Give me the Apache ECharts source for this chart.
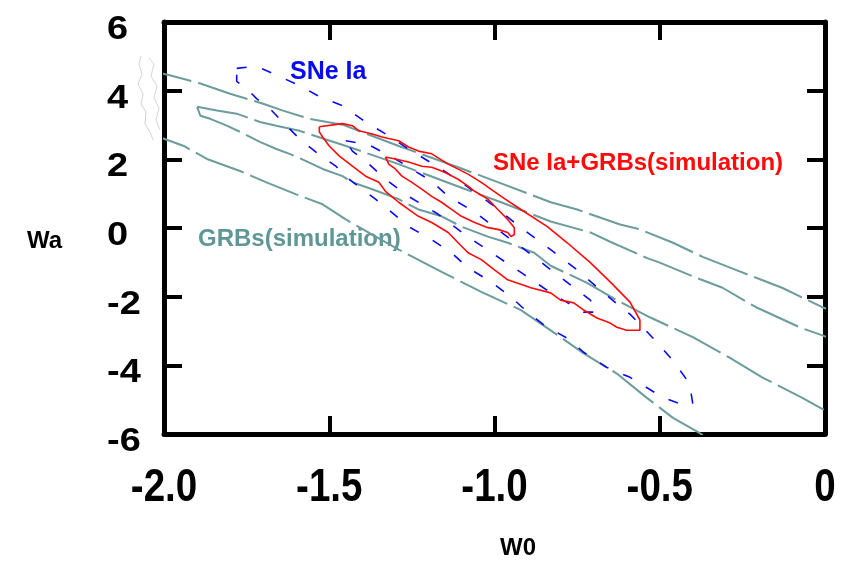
<!DOCTYPE html>
<html>
<head>
<meta charset="utf-8">
<script src="https://cdn.jsdelivr.net/npm/echarts@6/dist/echarts.min.js"></script>
<style>
  html, body { margin: 0; padding: 0; background: #ffffff; }
  #chart { width: 854px; height: 564px; }
</style>
</head>
<body>
<div id="chart"></div>
<script>
// Confidence contours in the (w0, wa) plane.
var xTickValues = [-2, -1.5, -1, -0.5, 0];
var xTickLabels = ['-2.0', '-1.5', '-1.0', '-0.5', '0'];
var yTickValues = [-6, -4, -2, 0, 2, 4, 6];
var yTickLabels = ['-6', '-4', '-2', '0', '2', '4', '6'];

// GRBs (simulation): outer contour, upper and lower branches (run off the plot)
var grbOuterUpper = [
  [-2.07, 4.65], [-1.98, 4.44], [-1.89, 4.21], [-1.80, 3.91], [-1.70, 3.62],
  [-1.64, 3.42], [-1.56, 3.18], [-1.46, 3.01], [-1.29, 2.39], [-1.11, 1.77],
  [-0.98, 1.30], [-0.83, 0.75], [-0.75, 0.54], [-0.62, 0.10], [-0.56, -0.04],
  [-0.46, -0.43], [-0.37, -0.84], [-0.27, -1.22], [-0.13, -1.74], [-0.01, -2.30],
  [0.11, -2.74]
];
var grbOuterLower = [
  [-2.07, 2.80], [-2.00, 2.60], [-1.94, 2.39], [-1.87, 2.01], [-1.77, 1.66],
  [-1.69, 1.33], [-1.60, 0.98], [-1.52, 0.69], [-1.45, 0.25], [-1.29, -0.63],
  [-1.16, -1.28], [-1.04, -1.86], [-0.92, -2.39], [-0.83, -2.98], [-0.73, -3.65],
  [-0.63, -4.24], [-0.54, -4.94], [-0.46, -5.53], [-0.38, -5.97], [-0.32, -6.35]
];
// GRBs (simulation): inner contour, closed at the left tip
var grbInner = [
  [-1.90, 3.53], [-1.84, 3.42], [-1.78, 3.33], [-1.71, 3.09], [-1.66, 2.98],
  [-1.59, 2.83], [-1.44, 2.36], [-1.29, 1.86], [-1.13, 1.28], [-0.98, 0.75],
  [-0.83, 0.19], [-0.71, -0.13], [-0.65, -0.40], [-0.54, -0.87], [-0.50, -1.01],
  [-0.39, -1.45], [-0.31, -1.74], [-0.21, -2.30], [-0.07, -2.92], [-0.01, -3.12],
  [0.11, -3.56],
  [0.11, -5.76], [-0.01, -5.26], [-0.07, -4.94], [-0.19, -4.35], [-0.29, -3.77],
  [-0.40, -3.18], [-0.53, -2.60], [-0.63, -2.10], [-0.72, -1.60], [-0.83, -1.10],
  [-0.88, -0.72], [-0.96, -0.43], [-1.02, -0.25], [-1.10, 0.04], [-1.16, 0.34],
  [-1.23, 0.54], [-1.29, 0.84], [-1.37, 1.13], [-1.43, 1.33], [-1.46, 1.51],
  [-1.52, 1.72], [-1.57, 1.95], [-1.62, 2.16], [-1.66, 2.30], [-1.71, 2.51],
  [-1.77, 2.80], [-1.81, 2.98], [-1.86, 3.18], [-1.89, 3.27]
];

// SNe Ia: outer and inner contours
var sneOuter = [
  [-1.78, 4.65], [-1.72, 4.71], [-1.65, 4.41], [-1.59, 4.15], [-1.53, 3.83],
  [-1.46, 3.56], [-1.39, 3.09], [-1.33, 2.74], [-1.26, 2.30], [-1.17, 1.77],
  [-1.10, 1.33], [-1.00, 0.63], [-0.92, 0.01], [-0.83, -0.63], [-0.75, -1.22],
  [-0.67, -1.89], [-0.59, -2.51], [-0.52, -3.21], [-0.46, -3.86], [-0.41, -4.53],
  [-0.40, -5.12], [-0.42, -5.18], [-0.49, -4.94], [-0.59, -4.35], [-0.66, -4.06],
  [-0.73, -3.62], [-0.78, -3.21], [-0.85, -2.83], [-0.90, -2.45], [-0.95, -2.01],
  [-1.01, -1.57], [-1.08, -1.16], [-1.13, -0.72], [-1.19, -0.34], [-1.26, 0.04],
  [-1.31, 0.45], [-1.36, 0.84], [-1.44, 1.42], [-1.48, 1.80], [-1.54, 2.21],
  [-1.59, 2.60], [-1.63, 2.98], [-1.68, 3.48], [-1.72, 3.77], [-1.75, 4.06],
  [-1.78, 4.27]
];
var sneInner = [
  [-1.45, 2.54], [-1.38, 2.42], [-1.31, 2.07], [-1.19, 1.36], [-1.14, 0.92],
  [-1.06, 0.46], [-0.97, -0.19], [-0.88, -0.84], [-0.79, -1.51], [-0.71, -2.10],
  [-0.69, -2.45], [-0.73, -2.45], [-0.82, -1.95], [-0.91, -1.36], [-1.00, -0.78],
  [-1.09, -0.19], [-1.17, 0.40], [-1.26, 0.92], [-1.33, 1.42], [-1.38, 1.86],
  [-1.43, 2.24]
];

// SNe Ia + GRBs (simulation): outer and inner contours
var jointOuter = [
  [-1.53, 2.95], [-1.46, 3.04], [-1.43, 2.98], [-1.41, 2.83], [-1.37, 2.74],
  [-1.34, 2.65], [-1.29, 2.54], [-1.26, 2.36], [-1.23, 2.24], [-1.19, 2.16],
  [-1.14, 1.86], [-1.08, 1.57], [-1.04, 1.33], [-0.98, 0.92], [-0.92, 0.54],
  [-0.84, 0.04], [-0.78, -0.43], [-0.71, -1.01], [-0.65, -1.57], [-0.59, -2.16],
  [-0.56, -2.68], [-0.56, -2.98], [-0.60, -2.98], [-0.63, -2.89], [-0.65, -2.77],
  [-0.69, -2.62], [-0.73, -2.39], [-0.76, -2.18], [-0.80, -2.10], [-0.83, -1.89],
  [-0.89, -1.74], [-0.96, -1.51], [-1.00, -1.22], [-1.04, -0.92], [-1.08, -0.72],
  [-1.11, -0.43], [-1.14, -0.13], [-1.19, 0.16], [-1.23, 0.34], [-1.26, 0.54],
  [-1.29, 0.75], [-1.33, 1.07], [-1.35, 1.33], [-1.39, 1.51], [-1.43, 1.80],
  [-1.47, 2.10], [-1.50, 2.39], [-1.52, 2.65], [-1.53, 2.80]
];
var jointInner = [
  [-1.33, 2.07], [-1.30, 2.01], [-1.26, 1.92], [-1.22, 1.80], [-1.19, 1.77],
  [-1.16, 1.66], [-1.14, 1.57], [-1.11, 1.42], [-1.08, 1.22], [-1.06, 1.07],
  [-1.02, 0.84], [-0.99, 0.54], [-0.96, 0.25], [-0.94, 0.01], [-0.94, -0.19],
  [-0.95, -0.25], [-0.96, -0.13], [-0.99, -0.04], [-1.02, 0.01], [-1.06, 0.16],
  [-1.10, 0.34], [-1.13, 0.54], [-1.16, 0.75], [-1.19, 0.92], [-1.22, 1.13],
  [-1.25, 1.33], [-1.28, 1.51], [-1.30, 1.72], [-1.32, 1.86]
];

function closed(pts) { return pts.concat([pts[0]]); }

var TEAL = '#6c9c9c';
var BLUE = '#0a0af0';
var RED = '#ff0a0a';
var TEAL_DASH = [52, 7];
var BLUE_DASH = [10, 16];

function contour(name, pts, color, width, dash) {
  return {
    name: name, type: 'line', data: pts, showSymbol: false, symbol: 'none',
    clip: true, silent: true,
    lineStyle: { color: color, width: width, type: dash || 'solid' }
  };
}

var labelFont = '"Liberation Sans", Arial, sans-serif';
var frameLine = { show: true, onZero: false, lineStyle: { color: '#000', width: 5 } };
var frameTick = { show: true, inside: true, length: 18, lineStyle: { color: '#000', width: 4 } };

function frameAxis(extra) {
  var a = {
    type: 'value', axisLine: frameLine, axisTick: frameTick,
    splitLine: { show: false }, axisLabel: { show: false }
  };
  for (var k in extra) a[k] = extra[k];
  return a;
}

var chart = echarts.init(document.getElementById('chart'), null, { renderer: 'canvas' });
chart.setOption({
  animation: false,
  backgroundColor: '#ffffff',
  grid: { left: 164, right: 29, top: 22, bottom: 130, containLabel: false },
  xAxis: [
    frameAxis({ min: -2, max: 0, interval: 0.5, position: 'bottom' }),
    frameAxis({ min: -2, max: 0, interval: 0.5, position: 'top' })
  ],
  yAxis: [
    frameAxis({ min: -6, max: 6, interval: 2, position: 'left' }),
    frameAxis({ min: -6, max: 6, interval: 2, position: 'right' })
  ],
  series: [
    contour('GRBs outer upper', grbOuterUpper, TEAL, 2, TEAL_DASH),
    contour('GRBs outer lower', grbOuterLower, TEAL, 2, TEAL_DASH),
    contour('GRBs inner', closed(grbInner), TEAL, 2, TEAL_DASH),
    contour('SNe Ia outer', closed(sneOuter), BLUE, 1.6, BLUE_DASH),
    contour('SNe Ia inner', closed(sneInner), BLUE, 1.6, BLUE_DASH),
    contour('SNe Ia+GRBs outer', closed(jointOuter), RED, 1.6),
    contour('SNe Ia+GRBs inner', closed(jointInner), RED, 1.6)
  ]
});

// Tick labels: placed at the axis positions, narrow on the w0 axis and wide on the wa axis.
var elements = [];
xTickValues.forEach(function (v, i) {
  elements.push({
    type: 'text', silent: true,
    x: chart.convertToPixel({ xAxisIndex: 0 }, v), y: 488, scaleX: 0.82,
    style: { text: xTickLabels[i], fill: '#000', font: 'bold 47px ' + labelFont, align: 'center', verticalAlign: 'middle' }
  });
});
yTickValues.forEach(function (v, i) {
  elements.push({
    type: 'text', silent: true,
    x: 107, y: chart.convertToPixel({ yAxisIndex: 0 }, v) + 8, scaleX: 1.15,
    style: { text: yTickLabels[i], fill: '#000', font: 'bold 33px ' + labelFont, align: 'left', verticalAlign: 'middle' }
  });
});

elements.push(
  { type: 'text', left: 290, top: 60, style: { text: 'SNe Ia', fill: BLUE, font: 'bold 25px ' + labelFont } },
  { type: 'text', left: 493, top: 151, style: { text: 'SNe Ia+GRBs(simulation)', fill: RED, font: 'bold 24px ' + labelFont } },
  { type: 'text', left: 198, top: 227, style: { text: 'GRBs(simulation)', fill: '#5f9797', font: 'bold 24px ' + labelFont } },
  { type: 'text', left: 27, top: 229, style: { text: 'Wa', fill: '#000', font: 'bold 24px ' + labelFont } },
  { type: 'text', left: 500, top: 536, style: { text: 'W0', fill: '#000', font: 'bold 24px ' + labelFont } },
  // faint stray outline left of the frame
  {
    type: 'polyline', silent: true,
    shape: { points: [[141, 56], [139, 64], [142, 74], [138, 84], [143, 94], [141, 104], [146, 112], [145, 124], [150, 132], [153, 140]] },
    style: { stroke: '#d2d2d2', lineWidth: 1, fill: null }
  },
  {
    type: 'polyline', silent: true,
    shape: { points: [[149, 58], [154, 64], [151, 76], [157, 86], [154, 98], [159, 108], [156, 120], [160, 130]] },
    style: { stroke: '#d6d6d6', lineWidth: 1, fill: null }
  }
);
chart.setOption({ graphic: { elements: elements } });
</script>
</body>
</html>
